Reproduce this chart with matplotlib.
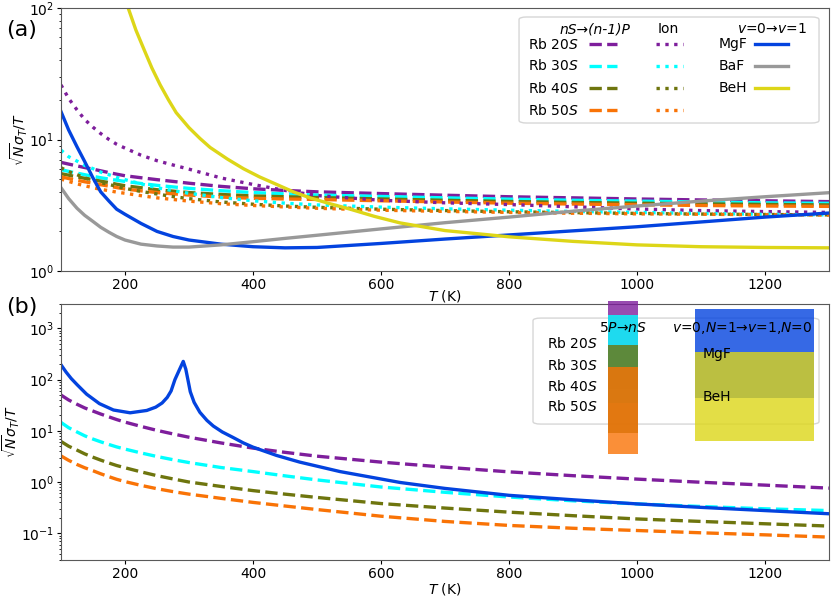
import matplotlib
matplotlib.use('Agg')
import matplotlib.pyplot as plt
from matplotlib.lines import Line2D
from matplotlib.patches import Rectangle, FancyBboxPatch

# colours
c_purple = '#7e1e9c'
c_cyan = '#00ffff'
c_olive = '#6e750e'
c_orange = '#f97306'
c_blue = '#0343df'
c_grey = '#999999'
c_yellow = '#ddd618'

rb_states = ['Rb 20$S$', 'Rb 30$S$', 'Rb 40$S$', 'Rb 50$S$']
rb_colors = [c_purple, c_cyan, c_olive, c_orange]
mol_names = ['MgF', 'BaF', 'BeH']
mol_colors = [c_blue, c_grey, c_yellow]

# ---------------- panel (a) data ----------------
T_a = [100, 112, 125, 137, 150, 162, 175, 187, 200, 225, 250, 275, 300, 350, 400, 450, 500,
       600, 700, 800, 900, 1000, 1100, 1200, 1300]

# nS -> (n-1)P  (dashed)
rb20_nP = [6.7, 6.5, 6.3, 6.12, 5.95, 5.78, 5.6, 5.45, 5.3, 5.12, 4.95, 4.8, 4.65, 4.4, 4.22, 4.1, 4.0,
           3.88, 3.77, 3.67, 3.6, 3.53, 3.47, 3.42, 3.37]
rb30_nP = [5.9, 5.72, 5.55, 5.4, 5.25, 5.12, 5.0, 4.9, 4.8, 4.63, 4.48, 4.36, 4.25, 4.08, 3.95, 3.86, 3.78,
           3.69, 3.6, 3.52, 3.45, 3.4, 3.35, 3.3, 3.27]
rb40_nP = [5.5, 5.35, 5.2, 5.07, 4.95, 4.82, 4.7, 4.57, 4.45, 4.3, 4.15, 4.05, 3.95, 3.82, 3.72, 3.67, 3.62,
           3.53, 3.45, 3.38, 3.32, 3.28, 3.24, 3.21, 3.18]
rb50_nP = [5.2, 5.05, 4.9, 4.77, 4.65, 4.53, 4.42, 4.31, 4.2, 4.07, 3.95, 3.86, 3.78, 3.65, 3.57, 3.53, 3.5,
           3.42, 3.35, 3.28, 3.23, 3.19, 3.15, 3.12, 3.1]

# ionisation (dotted)
rb20_ion = [26, 20.5, 16.8, 14.2, 12.4, 11.1, 10.0, 9.2, 8.6, 7.6, 6.9, 6.4, 5.95, 5.1, 4.55, 4.1, 3.75,
            3.45, 3.3, 3.2, 3.08, 2.96, 2.88, 2.83, 2.79]
rb30_ion = [8.3, 7.4, 6.85, 6.35, 6.0, 5.65, 5.4, 5.15, 4.95, 4.6, 4.3, 4.08, 3.9, 3.62, 3.42, 3.28, 3.18,
            3.06, 2.97, 2.9, 2.84, 2.79, 2.74, 2.7, 2.67]
rb40_ion = [6.1, 5.7, 5.4, 5.1, 4.9, 4.7, 4.55, 4.4, 4.25, 4.03, 3.85, 3.68, 3.55, 3.35, 3.22, 3.12, 3.05,
            2.95, 2.88, 2.82, 2.78, 2.74, 2.71, 2.69, 2.67]
rb50_ion = [5.0, 4.8, 4.6, 4.45, 4.3, 4.18, 4.08, 3.98, 3.9, 3.74, 3.6, 3.5, 3.4, 3.25, 3.15, 3.07, 3.0,
            2.9, 2.84, 2.79, 2.75, 2.72, 2.7, 2.68, 2.66]

# molecules v=0 -> v=1
mgf_a = [16.3, 11.8, 8.8, 6.8, 5.1, 4.0, 3.4, 2.95, 2.7, 2.3, 2.0, 1.83, 1.72, 1.6, 1.53, 1.5, 1.51,
         1.62, 1.75, 1.88, 2.02, 2.17, 2.36, 2.57, 2.76]
baf_a = [4.3, 3.55, 3.0, 2.65, 2.38, 2.15, 1.97, 1.83, 1.72, 1.6, 1.55, 1.52, 1.52, 1.58, 1.67, 1.77, 1.87,
         2.09, 2.33, 2.57, 2.85, 3.12, 3.4, 3.67, 3.94]
T_beh = [198, 205, 217, 230, 242, 255, 268, 280, 300, 317, 333, 360, 385, 410, 437, 463, 489, 520, 550,
         590, 630, 700, 800, 900, 1000, 1100, 1200, 1300]
beh_a = [120, 100, 68, 48, 35, 26, 20, 16, 12.3, 10.2, 8.7, 7.1, 6.0, 5.2, 4.55, 4.0, 3.6, 3.25, 2.97,
         2.6, 2.32, 2.03, 1.82, 1.68, 1.58, 1.53, 1.51, 1.5]

# ---------------- panel (b) data ----------------
T_b = T_a
rb20_b = [50, 40, 33, 28, 24.3, 21.3, 18.7, 16.6, 14.8, 12.2, 10.2, 8.7, 7.5, 5.8, 4.6, 3.8, 3.2,
          2.45, 1.95, 1.58, 1.33, 1.14, 0.99, 0.87, 0.76]
rb30_b = [14.6, 11.5, 9.5, 8.0, 6.9, 6.1, 5.4, 4.85, 4.4, 3.7, 3.15, 2.73, 2.4, 1.92, 1.6, 1.32, 1.1,
          0.8, 0.63, 0.51, 0.43, 0.374, 0.333, 0.30, 0.277]
rb40_b = [6.2, 5.0, 4.2, 3.55, 3.05, 2.68, 2.35, 2.1, 1.9, 1.58, 1.33, 1.15, 1.0, 0.82, 0.68, 0.58, 0.5,
          0.38, 0.31, 0.258, 0.22, 0.19, 0.17, 0.153, 0.138]
rb50_b = [3.24, 2.65, 2.2, 1.9, 1.66, 1.45, 1.27, 1.13, 1.02, 0.86, 0.74, 0.65, 0.58, 0.48, 0.40, 0.34, 0.29,
          0.215, 0.17, 0.142, 0.125, 0.113, 0.102, 0.093, 0.084]

# MgF v=0,N=1 -> v=1,N=0 (has a resonance near 290 K)
T_mgf_b = [100, 108, 116, 125, 140, 160, 182, 208, 234, 248, 258, 266, 272, 278, 285, 291, 295, 299,
           302, 308, 317, 328, 338, 352, 369, 385, 400, 437, 473, 536, 630, 700, 800, 900, 1000,
           1100, 1200, 1300]
mgf_b = [195, 140, 105, 80, 52, 34, 25.5, 22.5, 25, 29, 35, 45, 60, 100, 156, 227, 160, 90,
         58, 36, 23, 16, 12.4, 9.5, 7.4, 5.8, 4.8, 3.3, 2.45, 1.6, 0.98, 0.75, 0.55, 0.45, 0.374,
         0.32, 0.277, 0.24]

plt.rcParams['font.family'] = 'DejaVu Sans'
fig = plt.figure(figsize=(8.31, 6.0), dpi=100)
W, H = 831.0, 600.0
ax_a = fig.add_axes([61 / W, 1 - 271 / H, 768 / W, 263 / H])
ax_b = fig.add_axes([61 / W, 1 - 560 / H, 768 / W, 256 / H])

lw = 2.4

# ---- (a) ----
nP_sets = [rb20_nP, rb30_nP, rb40_nP, rb50_nP]
ion_sets = [rb20_ion, rb30_ion, rb40_ion, rb50_ion]
for vals, col in zip(nP_sets, rb_colors):
    ax_a.plot(T_a, vals, '--', color=col, lw=lw)
for vals, col in zip(ion_sets, rb_colors):
    ax_a.plot(T_a, vals, ':', color=col, lw=lw)
ax_a.plot(T_a, mgf_a, '-', color=c_blue, lw=lw)
ax_a.plot(T_a, baf_a, '-', color=c_grey, lw=lw)
ax_a.plot(T_beh, beh_a, '-', color=c_yellow, lw=lw)

ax_a.set_yscale('log')
ax_a.set_xlim(100, 1300)
ax_a.set_ylim(1, 100)


def key_line(ax, x0, x1, y, **kw):
    ax.add_line(Line2D([x0, x1], [y, y], transform=ax.transAxes, zorder=6, **kw))


# hand-made three-column legend for (a)
ax_a.add_patch(FancyBboxPatch((0.5964, 0.5627), 0.987 - 0.5964, 0.9658 - 0.5627,
                              boxstyle='round,pad=0,rounding_size=0.01', transform=ax_a.transAxes,
                              facecolor='white', edgecolor='0.8', alpha=0.8, zorder=5))
ta = dict(transform=ax_a.transAxes, fontsize=10, zorder=7, va='center')
ax_a.text(0.6497, 0.920, 'nS→(n-1)P', ha='left', style='italic', **ta)
ax_a.text(0.7773, 0.920, 'Ion', ha='left', **ta)
ax_a.text(0.9714, 0.920, '$v$=0→$v$=1', ha='right', **ta)
rows_a = [0.863, 0.7795, 0.6958, 0.612]
for lab, col, yy in zip(rb_states, rb_colors, rows_a):
    ax_a.text(0.608, yy, lab, ha='left', **ta)
    key_line(ax_a, 0.6875, 0.724, yy, color=col, lw=lw, ls='--')
    key_line(ax_a, 0.7747, 0.8099, yy, color=col, lw=lw, ls=':')
for lab, col, yy in zip(mol_names, mol_colors, rows_a):
    ax_a.text(0.8568, yy, lab, ha='left', **ta)
    key_line(ax_a, 0.9036, 0.9466, yy, color=col, lw=lw, ls='-')

# ---- (b) ----
b_sets = [rb20_b, rb30_b, rb40_b, rb50_b]
for vals, col in zip(b_sets, rb_colors):
    ax_b.plot(T_b, vals, '--', color=col, lw=lw)
ax_b.plot(T_mgf_b, mgf_b, '-', color=c_blue, lw=lw)
ax_b.set_yscale('log')
ax_b.set_xlim(100, 1300)
ax_b.set_ylim(0.03, 3000)

ax_b.add_patch(FancyBboxPatch((0.6146, 0.531), 0.987 - 0.6146, 0.945 - 0.531,
                              boxstyle='round,pad=0,rounding_size=0.01', transform=ax_b.transAxes,
                              facecolor='white', edgecolor='0.8', alpha=0.8, zorder=5))

# coloured key blocks
left_blocks = [(1.012, 0.668, c_purple), (0.957, 0.613, c_cyan),
               (0.840, 0.496, c_olive), (0.754, 0.414, c_orange)]
for top, bot, col in left_blocks:
    ax_b.add_patch(Rectangle((0.712, bot), 0.039, top - bot, transform=ax_b.transAxes,
                             facecolor=col, edgecolor='none', alpha=0.8, zorder=6, clip_on=False))
right_blocks = [(0.980, 0.633, c_blue), (0.8125, 0.465, c_yellow)]
for top, bot, col in right_blocks:
    ax_b.add_patch(Rectangle((0.8255, bot), 0.155, top - bot, transform=ax_b.transAxes,
                             facecolor=col, edgecolor='none', alpha=0.8, zorder=6, clip_on=False))

tb = dict(transform=ax_b.transAxes, fontsize=10, zorder=7, va='center')
ax_b.text(0.763, 0.906, '5$P$→$nS$', ha='right', **tb)
for lab, yy in zip(rb_states, [0.844, 0.758, 0.676, 0.598]):
    ax_b.text(0.633, yy, lab, ha='left', **tb)
ax_b.text(0.979, 0.906, '$v$=0,$N$=1→$v$=1,$N$=0', ha='right', **tb)
ax_b.text(0.836, 0.805, 'MgF', ha='left', **tb)
ax_b.text(0.836, 0.637, 'BeH', ha='left', **tb)

for ax, pad, lx in ((ax_a, -3, -0.041), (ax_b, 0, -0.051)):
    ax.set_xticks([200, 400, 600, 800, 1000, 1200])
    ax.tick_params(which='major', labelsize=10, length=3, pad=2)
    ax.tick_params(which='minor', length=1.8)
    ax.set_xlabel('$T$ (K)', fontsize=10, labelpad=pad)
    ax.set_ylabel(r'$\sqrt{N}\sigma_T/T$', fontsize=10)
    ax.yaxis.set_label_coords(lx, 0.5)
    for s in ax.spines.values():
        s.set_color('0.35')

fig.text(6 / W, 1 - 30 / H, '(a)', fontsize=16, va='center', ha='left')
fig.text(6 / W, 1 - 307 / H, '(b)', fontsize=16, va='center', ha='left')

fig.savefig('out.png', dpi=100)
